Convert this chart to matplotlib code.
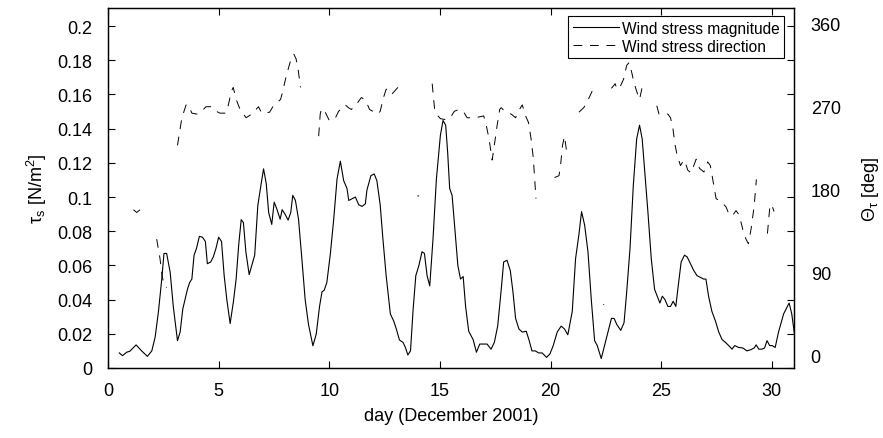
import numpy as np
import matplotlib.pyplot as plt

plt.rcParams['font.family'] = ['Liberation Sans', 'DejaVu Sans']
plt.rcParams['mathtext.fontset'] = 'custom'
plt.rcParams['mathtext.rm'] = 'Liberation Sans'
plt.rcParams['mathtext.it'] = 'Liberation Sans'

# wind stress magnitude [N/m^2]
mag_day = [0.51, 0.66, 0.84, 0.99, 1.27, 1.52, 1.78, 1.98, 2.13, 2.28, 2.43, 2.53, 2.65, 2.81, 2.95,
           3.14, 3.26, 3.38, 3.59, 3.69, 3.79, 3.89, 4.0, 4.13, 4.27, 4.4, 4.49, 4.64, 4.76, 4.88,
           5.0, 5.13, 5.25, 5.37, 5.52, 5.67, 5.79, 5.91, 6.02, 6.12, 6.23, 6.38, 6.5, 6.63, 6.77,
           6.9, 7.03, 7.15, 7.26, 7.4, 7.51, 7.63, 7.78, 7.87, 8.0, 8.14, 8.26, 8.35, 8.47, 8.61,
           8.76, 8.91, 9.06, 9.26, 9.41, 9.56, 9.67, 9.77, 9.89, 10.05, 10.2, 10.35, 10.5, 10.65,
           10.8, 10.88, 11.03, 11.18, 11.33, 11.48, 11.63, 11.7, 11.88, 12.03, 12.15, 12.3, 12.42,
           12.57, 12.76, 12.91, 13.03, 13.17, 13.33, 13.44, 13.55, 13.67, 13.79, 13.91, 14.05,
           14.19, 14.3, 14.42, 14.54, 14.69, 14.84, 15.02, 15.14, 15.26, 15.35, 15.44, 15.55,
           15.66, 15.81, 15.93, 16.05, 16.16, 16.3, 16.5, 16.65, 16.8, 16.98, 17.13, 17.31, 17.46,
           17.61, 17.76, 17.88, 18.03, 18.18, 18.3, 18.42, 18.57, 18.72, 18.9, 19.02, 19.16, 19.31,
           19.46, 19.62, 19.82, 19.97, 20.12, 20.3, 20.48, 20.63, 20.78, 20.98, 21.13, 21.28, 21.4,
           21.54, 21.69, 21.84, 21.99, 22.11, 22.29, 22.44, 22.6, 22.75, 22.87, 22.99, 23.17,
           23.32, 23.44, 23.59, 23.74, 23.89, 24.02, 24.14, 24.25, 24.4, 24.55, 24.7, 24.82, 24.94,
           25.05, 25.17, 25.3, 25.42, 25.54, 25.66, 25.75, 25.9, 26.05, 26.17, 26.32, 26.47, 26.62,
           26.77, 26.92, 27.02, 27.14, 27.29, 27.45, 27.6, 27.75, 27.9, 28.05, 28.2, 28.32, 28.5,
           28.69, 28.87, 29.05, 29.2, 29.29, 29.41, 29.55, 29.67, 29.78, 29.9, 30.02, 30.15, 30.3,
           30.53, 30.78, 30.9, 31.04]
mag_val = [0.0088, 0.0072, 0.0092, 0.0098, 0.0135, 0.010, 0.0068, 0.010, 0.018, 0.033, 0.052, 0.067,
           0.067, 0.056, 0.036, 0.016, 0.021, 0.0345, 0.046, 0.050, 0.052, 0.066, 0.070, 0.077,
           0.0765, 0.074, 0.061, 0.062, 0.065, 0.070, 0.0765, 0.074, 0.054, 0.040, 0.026, 0.039,
           0.052, 0.0725, 0.0868, 0.085, 0.068, 0.0546, 0.060, 0.066, 0.095, 0.106, 0.1165, 0.108,
           0.091, 0.084, 0.097, 0.093, 0.087, 0.0926, 0.090, 0.0865, 0.091, 0.101, 0.098, 0.087,
           0.064, 0.040, 0.0255, 0.013, 0.0198, 0.036, 0.0445, 0.0455, 0.050, 0.067, 0.087, 0.1105,
           0.121, 0.1096, 0.105, 0.098, 0.099, 0.100, 0.0955, 0.0945, 0.096, 0.104, 0.1125, 0.1135,
           0.1096, 0.0955, 0.076, 0.054, 0.0316, 0.0275, 0.0228, 0.0164, 0.015, 0.012, 0.0076,
           0.010, 0.0345, 0.054, 0.060, 0.068, 0.067, 0.054, 0.048, 0.076, 0.1105, 0.136, 0.1448,
           0.142, 0.126, 0.105, 0.101, 0.0835, 0.060, 0.052, 0.0535, 0.036, 0.0215, 0.0166, 0.0092,
           0.014, 0.014, 0.014, 0.011, 0.015, 0.0245, 0.0445, 0.062, 0.063, 0.057, 0.0445, 0.029,
           0.0228, 0.021, 0.0215, 0.0166, 0.010, 0.010, 0.0088, 0.0088, 0.0062, 0.0082, 0.0131,
           0.021, 0.0245, 0.0228, 0.0194, 0.0331, 0.064, 0.078, 0.0915, 0.0835, 0.068, 0.040, 0.016,
           0.0131, 0.0055, 0.0131, 0.021, 0.029, 0.029, 0.0255, 0.022, 0.0265, 0.0445, 0.070, 0.107,
           0.134, 0.142, 0.134, 0.116, 0.091, 0.064, 0.046, 0.042, 0.038, 0.042, 0.040, 0.036, 0.036,
           0.039, 0.036, 0.046, 0.062, 0.066, 0.065, 0.061, 0.057, 0.054, 0.053, 0.052, 0.052, 0.042,
           0.0331, 0.0275, 0.021, 0.0166, 0.015, 0.0131, 0.011, 0.0131, 0.012, 0.0117, 0.010, 0.0107,
           0.0117, 0.0135, 0.011, 0.011, 0.0117, 0.016, 0.0131, 0.0131, 0.012, 0.021, 0.0316, 0.038,
           0.0316, 0.018]

# wind stress direction [deg], NaN marks gaps in the record
nan = np.nan
dir_day = [1.15, 1.3, 1.45, nan,
           2.2, 2.35, 2.45, 2.55, 2.65, nan,
           3.14, 3.34, 3.53, 3.63, 3.79, 4.0, 4.15, 4.43, 4.68, 4.9, 5.05, 5.32, 5.42, 5.58, 5.66,
           5.79, 5.97, 6.24, 6.5, 6.8, 6.95, 7.3, 7.45, 7.8, 7.88, 8.06, 8.25, 8.4, 8.5, 8.6, 8.7, nan,
           9.52, 9.59, 9.65, 9.82, 10.0, 10.26, 10.42, 10.72, 10.86, 11.0, 11.3, 11.45, 11.64, 11.82,
           12.2, 12.3, 12.45, 12.57, 12.72, 12.84, 12.95, 13.1, nan,
           13.98, 14.06, nan,
           14.65, 14.76, 14.84, 15.02, 15.25, 15.47, 15.65, 15.85, 16.05, 16.23, 16.6, 16.98, 17.1,
           17.22, 17.36, 17.47, 17.58, 17.7, 17.77, 17.92, 18.22, 18.42, 18.52, 18.72, 18.87, 19.0,
           19.12, 19.22, 19.34, nan,
           20.18, 20.38, 20.45, 20.54, 20.63, 20.72, nan,
           21.28, 21.5, 21.65, 21.88, 22.1, nan,
           22.38, 22.42, nan,
           22.75, 22.92, 23.0, 23.15, 23.3, 23.44, 23.55, 23.67, 23.77, 23.9, 24.02, 24.12, 24.2, nan,
           24.8, 24.9, 25.3, 25.42, 25.53, 25.63, 25.72, 25.87, 25.97, 26.05, 26.2, 26.35, 26.47,
           26.58, 26.73, 26.93, 27.1, 27.22, 27.33, 27.48, 27.7, 27.93, 28.08, 28.23, 28.38, 28.53,
           28.68, 28.83, 28.94, 29.06, 29.2, 29.3, nan,
           29.8, 29.9, 29.98, 30.1]
dir_val = [158, 155, 158, nan,
           126, 105, 85, 76, 73, nan,
           228, 258, 272, 272, 263, 262, 263, 270, 270, 265, 263, 263, 270, 287, 291,
           278, 267, 258, 262, 270, 263, 264, 270, 278, 285, 304, 320, 327, 322, 309, 291, nan,
           238, 262, 268, 264, 255, 257, 265, 272, 269, 267, 275, 280, 277, 267,
           262, 265, 280, 289, 289, 284, 287, 291, nan,
           173, 173, nan,
           295, 267, 262, 257, 256, 258, 265, 267, 265, 258, 258, 260, 249,
           235, 212, 230, 249, 267, 269, 265, 262, 258, 264, 272, 260, 253,
           235, 214, 170, nan,
           193, 195, 206, 228, 238, 222, nan,
           264, 269, 275, 287, 292, nan,
           55, 55, nan,
           290, 295, 289, 292, 300, 315, 318, 307, 296, 286, 278, 289, 296, nan,
           271, 262, 262, 258, 246, 228, 217, 206, 210, 212, 201, 198, 206,
           213, 203, 199, 210, 206, 191, 170, 167, 161, 152, 152, 157, 152,
           137, 126, 121, 137, 162, 191, nan,
           132, 159, 164, 156]

fig = plt.figure(figsize=(8.83, 4.39), dpi=100)
ax = fig.add_axes([0.1223, 0.1595, 0.7769, 0.8193])
ax2 = ax.twinx()

l1, = ax.plot(mag_day, mag_val, color='black', lw=0.8)
l2, = ax2.plot(dir_day, dir_val, color='black', lw=0.7, dashes=(9, 8))

ax.set_xlim(0, 31)
ax.set_ylim(0, 0.2104)
ax2.set_ylim(-14.1, 377)

ax.set_xticks([0, 5, 10, 15, 20, 25, 30])
ax.set_yticks(np.arange(0, 0.201, 0.02))
ax.set_yticklabels(['0', '0.02', '0.04', '0.06', '0.08', '0.1', '0.12', '0.14', '0.16', '0.18', '0.2'])
ax2.set_yticks([0, 90, 180, 270, 360])

ax.tick_params(direction='in', length=5, width=0.8, labelsize=13, top=True, right=True, pad=11)
ax.tick_params(axis='x', pad=10)
ax2.tick_params(direction='in', length=0, labelsize=13, pad=12)

for a in (ax, ax2):
    for s in a.spines.values():
        s.set_linewidth(0.9)

ax.set_xlabel('day (December 2001)', fontsize=13, labelpad=6)
ax.set_ylabel('τ$_\\mathrm{s}$ [N/m$^2$]', fontsize=13, labelpad=6)
ax2.set_ylabel('Θ$_τ$ [deg]', fontsize=13, labelpad=14)

leg = ax2.legend([l1, l2], ['Wind stress magnitude', 'Wind stress direction'],
                 loc='upper right', bbox_to_anchor=(0.9854, 0.9786), borderaxespad=0,
                 fontsize=11.2, fancybox=False, framealpha=1, edgecolor='black',
                 handlelength=3.0, handletextpad=0.15, borderpad=0.3, labelspacing=0.2)
leg.get_frame().set_linewidth(0.8)

fig.savefig('out.png', dpi=100)
